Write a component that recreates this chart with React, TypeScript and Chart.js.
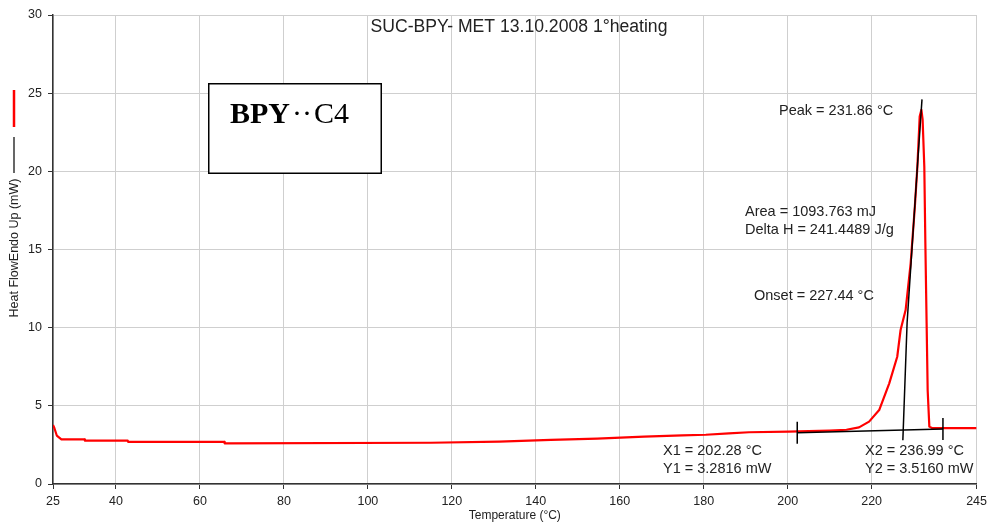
import React, { useEffect, useRef } from 'react';
import { Chart, registerables } from 'chart.js';

Chart.register(...registerables);

// ---- data ----
const temperature = [
  25, 25.3, 25.9, 27.0, 32.5, 32.6, 42.8, 42.9, 65.8, 65.9, 115, 131.3, 143.6, 154.6,
  165.8, 174.9, 180.5, 186.0, 190.8, 200.3, 205, 210, 214, 217.0, 219.4, 221.8, 224.2,
  226.1, 226.9, 228.1, 229.3, 230.3, 230.9, 231.45, 231.86, 232.15, 232.55, 232.8, 233.1,
  233.35, 233.75, 234.5, 245,
];
const heatFlow = [
  3.77, 3.6, 3.1, 2.86, 2.86, 2.77, 2.77, 2.69, 2.69, 2.6, 2.64, 2.71, 2.82, 2.9,
  3.03, 3.11, 3.15, 3.24, 3.31, 3.35, 3.38, 3.42, 3.47, 3.62, 3.99, 4.73, 6.44,
  8.14, 9.85, 11.13, 14.12, 17.74, 20.3, 23.5, 23.93, 23.3, 20.3, 15.4, 10.3,
  6.0, 3.67, 3.57, 3.58,
];
const baselineT = [202.28, 236.99];
const baselineY = [3.2816, 3.516];
const tangentT = [227.44, 228.45, 230.9, 232.0];
const tangentY = [2.8, 10.3, 20.3, 24.6];
const endTickHalf = 0.7;

const xTicks = [25, 40, 60, 80, 100, 120, 140, 160, 180, 200, 220, 245];
const yTickStep = 5;
const xRange = [25, 245];
const yRange = [0, 30];

const chartTitle = 'SUC-BPY- MET 13.10.2008 1°heating';
const xTitle = 'Temperature (°C)';
const yTitle = 'Heat FlowEndo Up (mW)';

const textColor = '#222222';
const sans = "'Liberation Sans', Arial, sans-serif";

const pairs = (xs: number[], ys: number[]) => xs.map((x, i) => ({ x, y: ys[i] }));

const overlayPlugin = {
  id: 'overlay',
  afterDraw(chart: any) {
    const ctx = chart.ctx as CanvasRenderingContext2D;
    ctx.save();
    ctx.fillStyle = textColor;
    ctx.textBaseline = 'middle';

    // title
    ctx.font = `17.6px ${sans}`;
    ctx.textAlign = 'center';
    ctx.fillText(chartTitle, 519, 27);

    // annotation texts
    ctx.font = `14.5px ${sans}`;
    ctx.textAlign = 'left';
    const labels: [string, number, number][] = [
      ['Peak = 231.86 °C', 779, 111],
      ['Area = 1093.763 mJ', 745, 212],
      ['Delta H = 241.4489 J/g', 745, 230],
      ['Onset = 227.44 °C', 754, 296],
      ['X1 = 202.28 °C', 663, 451],
      ['Y1 = 3.2816 mW', 663, 469],
      ['X2 = 236.99 °C', 865, 451],
      ['Y2 = 3.5160 mW', 865, 469],
    ];
    labels.forEach(([t, x, y]) => ctx.fillText(t, x, y));

    // box
    ctx.fillStyle = '#ffffff';
    ctx.fillRect(209, 84, 172, 89);
    ctx.strokeStyle = '#000000';
    ctx.lineWidth = 1.5;
    ctx.strokeRect(208.75, 83.75, 172.5, 89.5);
    ctx.fillStyle = '#000000';
    ctx.textBaseline = 'alphabetic';
    ctx.font = "bold 30px 'Liberation Serif', 'Times New Roman', serif";
    ctx.fillText('BPY', 230, 123);
    ctx.font = "30px 'Liberation Serif', 'Times New Roman', serif";
    ctx.fillText('·', 292, 123);
    ctx.fillText('·', 302, 123);
    ctx.fillText('C4', 314, 123);

    // y-axis title with legend swatches (rotated)
    ctx.strokeStyle = '#ff0000';
    ctx.lineWidth = 2.5;
    ctx.beginPath();
    ctx.moveTo(14, 90);
    ctx.lineTo(14, 127);
    ctx.stroke();
    ctx.strokeStyle = '#000000';
    ctx.lineWidth = 1.2;
    ctx.beginPath();
    ctx.moveTo(14, 137);
    ctx.lineTo(14, 173);
    ctx.stroke();
    ctx.translate(15, 248);
    ctx.rotate(-Math.PI / 2);
    ctx.fillStyle = textColor;
    ctx.font = `12.5px ${sans}`;
    ctx.textAlign = 'center';
    ctx.textBaseline = 'middle';
    ctx.fillText(yTitle, 0, 0);
    ctx.restore();
  },
};

export default function App() {
  const ref = useRef<HTMLCanvasElement>(null);
  useEffect(() => {
    if (!ref.current) return;
    const blackLine = (data: { x: number; y: number }[]) => ({
      data,
      borderColor: '#000000',
      borderWidth: 1.5,
      pointRadius: 0,
      tension: 0,
    });
    const chart = new Chart(ref.current, {
      type: 'line',
      data: {
        datasets: [
          blackLine(pairs(baselineT, baselineY)),
          blackLine(pairs(tangentT, tangentY)),
          blackLine([
            { x: baselineT[0], y: baselineY[0] + endTickHalf },
            { x: baselineT[0], y: baselineY[0] - endTickHalf },
          ]),
          blackLine([
            { x: baselineT[1], y: baselineY[1] + endTickHalf },
            { x: baselineT[1], y: baselineY[1] - endTickHalf },
          ]),
          {
            data: pairs(temperature, heatFlow),
            borderColor: '#ff0000',
            borderWidth: 2.2,
            borderJoinStyle: 'round',
            pointRadius: 0,
            tension: 0,
            order: 1,
          },
        ],
      },
      options: {
        animation: false,
        responsive: false,
        events: [],
        layout: { padding: { top: 15, right: 15, left: 0, bottom: 0 } },
        plugins: { legend: { display: false }, tooltip: { enabled: false }, title: { display: false } },
        scales: {
          x: {
            type: 'linear',
            min: xRange[0],
            max: xRange[1],
            afterBuildTicks: (scale: any) => {
              scale.ticks = xTicks.map((v) => ({ value: v }));
            },
            afterFit: (scale: any) => {
              scale.height = 39;
            },
            grid: { color: '#cfcfcf', lineWidth: 1, tickLength: 5, tickColor: '#333333' },
            border: { color: '#333333', width: 1.5 },
            ticks: {
              autoSkip: false,
              maxRotation: 0,
              color: textColor,
              font: { family: sans, size: 12.5 },
              padding: 5,
            },
            title: { display: true, text: xTitle, color: textColor, font: { family: sans, size: 12 }, padding: 0 },
          },
          y: {
            type: 'linear',
            min: yRange[0],
            max: yRange[1],
            afterFit: (scale: any) => {
              scale.width = 53;
            },
            grid: { color: '#cfcfcf', lineWidth: 1, tickLength: 5, tickColor: '#333333' },
            border: { color: '#333333', width: 1.5 },
            ticks: {
              stepSize: yTickStep,
              color: textColor,
              font: { family: sans, size: 12.5 },
              padding: 6,
            },
          },
        },
      },
      plugins: [overlayPlugin],
    } as any);
    return () => chart.destroy();
  }, []);
  return (
    <div style={{ position: 'absolute', left: 0, top: 0, width: 992, height: 523, background: '#fff' }}>
      <canvas ref={ref} width={992} height={523} style={{ width: 992, height: 523 }} />
    </div>
  );
}
